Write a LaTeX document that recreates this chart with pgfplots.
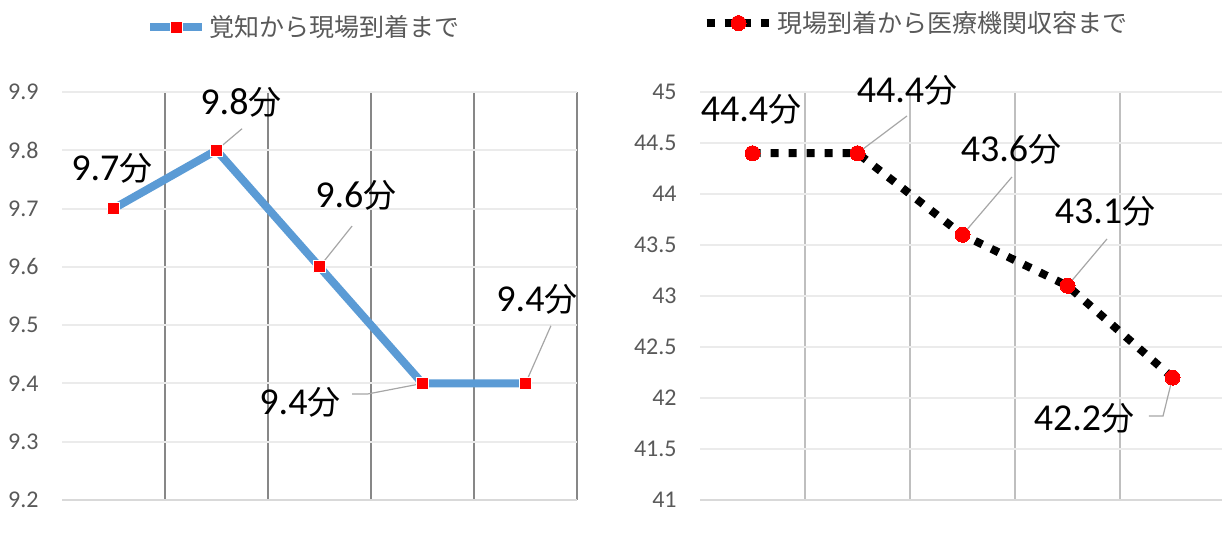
\documentclass[border=0pt]{standalone}
\usepackage{pgfplots}
\pgfplotsset{compat=1.18}
\usepackage{fontspec}
\setmainfont{Carlito}
\newfontfamily\cjk{Noto Sans CJK JP}
\definecolor{exblue}{HTML}{5B9BD5}
\definecolor{lbl}{HTML}{595959}
\definecolor{hgrid}{HTML}{EBEBEB}
\definecolor{axisln}{HTML}{D9D9D9}
\definecolor{leader}{HTML}{A6A6A6}
\newcommand\fen{{\cjk\fontsize{16.5bp}{16.5bp}\selectfont 分}}

\pgfplotsset{
  panel/.style={
    scale only axis, clip=false,
    xmin=0.5, xmax=5.5,
    xtick={1.5,2.5,3.5,4.5,5.5}, xticklabels={},
    major tick length=0pt,
    xmajorgrids, ymajorgrids,
    y grid style={hgrid, line width=1bp},
    axis line style={draw=none},
    yticklabel style={font=\fontsize{12bp}{12bp}\selectfont, text=lbl,
      anchor=east, inner sep=0pt, xshift=-11.5bp,
      /pgf/number format/assume math mode=true},
    legend style={draw=none, fill=none, inner sep=0pt, anchor=west,
      font=\cjk\fontsize{12.5bp}{15bp}\selectfont, text=lbl,
      nodes={inner ysep=0pt, inner xsep=1.5bp}},
    legend cell align=left,
  },
}
\tikzset{
  dlab/.style={font=\fontsize{19bp}{19bp}\selectfont, anchor=base, inner sep=0pt},
  lead/.style={leader, line width=0.6bp},
}

\begin{document}
\begin{tikzpicture}
\path[use as bounding box] (0,0) rectangle (611bp,268bp);

% left: 覚知から現場到着まで
\begin{axis}[panel,
  at={(31bp,18bp)}, anchor=south west,
  width=257.5bp, height=204bp,
  ymin=9.2, ymax=9.9,
  ytick={9.2,9.3,9.4,9.5,9.6,9.7,9.8,9.9},
  yticklabel style={/pgf/number format/fixed, /pgf/number format/fixed zerofill, /pgf/number format/precision=1},
  x grid style={color={rgb,255:red,135;green,135;blue,135}, line width=0.8bp},
  legend style={at={(0.163,1.159)}},
  legend image code/.code={
    \draw[mark repeat=2,mark phase=2,#1] plot coordinates {(0bp,0bp) (13bp,0bp) (26bp,0bp)};
  },
]
\draw[axisln, line width=1bp] (rel axis cs:0,0) -- (rel axis cs:1,0);
\draw[lead] (axis cs:2,9.8) -- (axis cs:2.248,9.837);
\draw[lead] (axis cs:3,9.6) -- (axis cs:3.316,9.67);
\draw[lead] (axis cs:4,9.4) -- (axis cs:3.471,9.382) -- (axis cs:3.316,9.382);
\draw[lead] (axis cs:5,9.4) -- (axis cs:5.247,9.499);
\addplot[exblue, line width=4bp, line join=round,
  mark=square*, mark size=3bp,
  mark options={fill=red, draw=white, line width=0.5bp, solid}]
  coordinates {(1,9.7) (2,9.8) (3,9.6) (4,9.4) (5,9.4)};
\addlegendentry{覚知から現場到着まで}
\node[dlab] at (axis cs:0.985,9.749) {9.7\fen};
\node[dlab] at (axis cs:2.238,9.861) {9.8\fen};
\node[dlab] at (axis cs:3.354,9.701) {9.6\fen};
\node[dlab] at (axis cs:2.811,9.346) {9.4\fen};
\node[dlab] at (axis cs:5.112,9.523) {9.4\fen};
\end{axis}

% right: 現場到着から医療機関収容まで
\begin{axis}[panel,
  at={(350bp,18bp)}, anchor=south west,
  width=262.5bp, height=204bp,
  ymin=41, ymax=45,
  ytick={41,41.5,42,42.5,43,43.5,44,44.5,45},
  x grid style={color={rgb,255:red,191;green,191;blue,191}, line width=0.8bp},
  legend style={at={(0.004,1.169)}},
  legend image code/.code={
    \draw[mark repeat=2,mark phase=2,#1] plot coordinates {(0bp,0bp) (16bp,0bp) (32bp,0bp)};
  },
]
\draw[axisln, line width=1bp] (rel axis cs:0,0) -- (rel axis cs:1,0);
\draw[lead] (axis cs:2,44.4) -- (axis cs:2.471,44.765);
\draw[lead] (axis cs:3,43.6) -- (axis cs:3.471,44.167);
\draw[lead] (axis cs:4,43.1) -- (axis cs:4.376,43.559);
\draw[lead] (axis cs:5,42.2) -- (axis cs:4.910,41.824) -- (axis cs:4.776,41.824);
\addplot[black, line width=4bp, dash pattern=on 4bp off 5bp,
  mark=*, mark size=3.75bp,
  mark options={fill=red, draw=red, solid, line width=0pt}]
  coordinates {(1,44.4) (2,44.4) (3,43.6) (4,43.1) (5,42.2)};
\addlegendentry{現場到着から医療機関収容まで}
\node[dlab] at (axis cs:0.986,44.706) {44.4\fen};
\node[dlab] at (axis cs:2.471,44.902) {44.4\fen};
\node[dlab] at (axis cs:3.462,44.314) {43.6\fen};
\node[dlab] at (axis cs:4.357,43.706) {43.1\fen};
\node[dlab] at (axis cs:4.157,41.686) {42.2\fen};
\end{axis}
\end{tikzpicture}
\end{document}
